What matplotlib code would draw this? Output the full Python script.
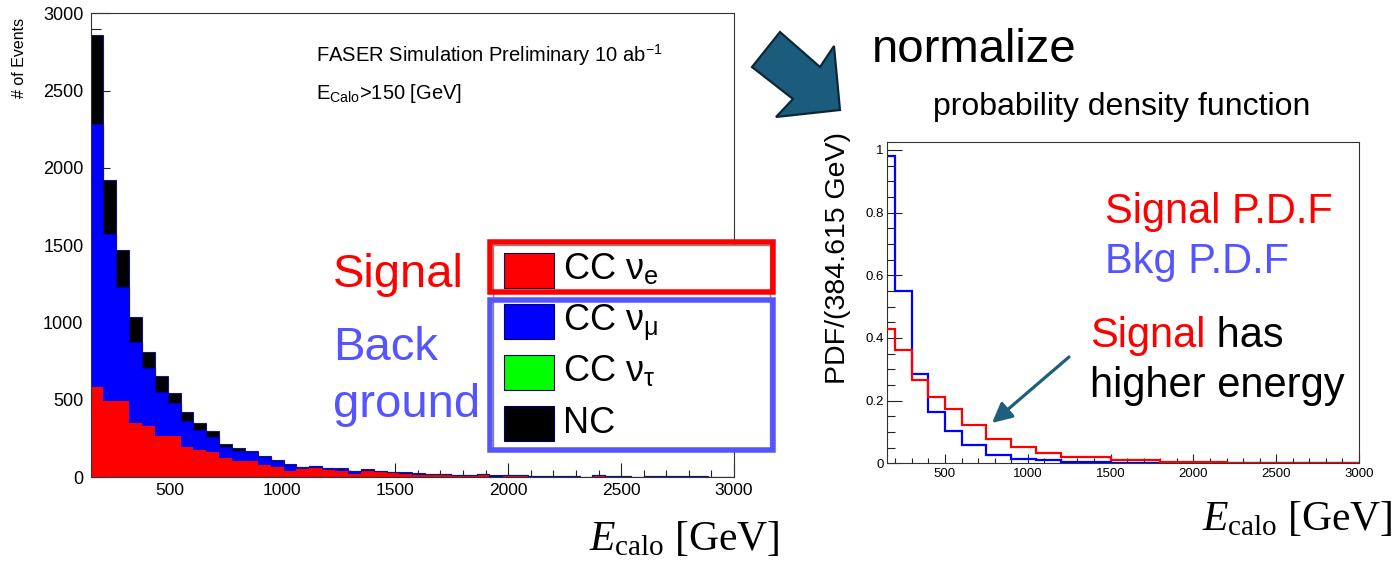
import numpy as np
import matplotlib
matplotlib.use('Agg')
import matplotlib.pyplot as plt
from matplotlib.patches import Rectangle, Polygon
from matplotlib.ticker import MultipleLocator, FuncFormatter

plt.rcParams['font.family'] = ['Liberation Sans', 'DejaVu Sans']
plt.rcParams['mathtext.fontset'] = 'custom'
plt.rcParams['mathtext.rm'] = 'Liberation Serif'
plt.rcParams['mathtext.it'] = 'Liberation Serif:italic'
plt.rcParams['mathtext.bf'] = 'Liberation Serif:bold'
plt.rcParams['mathtext.sf'] = 'Liberation Sans'

# ---------------- data ----------------
# left: stacked event counts, 50 bins from 150 to 3000 GeV
e_min, e_max, n_bins = 150, 3000, 50
cc_nue = [586, 495, 495, 349, 332, 269, 269, 198, 177, 166,
          127, 107, 106, 80, 65, 43, 52, 58, 47, 43,
          22, 43, 32, 30, 28, 15, 17, 15, 13, 9,
          17, 4, 12, 12, 0, 2, 2, 2, 0, 12,
          0, 0, 0, 0, 0, 0, 0, 0, 0, 0]
cc_numu = [1698, 1076, 737, 528, 377, 280, 209, 166, 129, 97,
           67, 65, 60, 53, 43, 38, 15, 14, 13, 13,
           19, 7, 7, 5, 2, 9, 3, 5, 2, 4,
           2, 6, 2, 2, 10, 4, 4, 4, 0, 1,
           6, 6, 0, 6, 6, 6, 6, 6, 0, 0]
cc_nutau = [0] * 50
nc = [576, 349, 238, 159, 99, 106, 65, 60, 43, 36,
      19, 15, 6, 5, 4, 3, 2, 3, 2, 2,
      2, 2, 2, 2, 2, 2, 2, 2, 2, 2,
      2, 2, 1, 1, 1, 0, 0, 0, 0, 1,
      0, 0, 0, 0, 0, 0, 0, 0, 0, 0]
stack_labels = ['CC ν$_{\\mathsf{e}}$', 'CC ν$_{\\mathsf{\\mu}}$',
                'CC ν$_{\\mathsf{\\tau}}$', 'NC']
stack_colors = ['#ff0000', '#0000ff', '#00ff00', '#000000']

# right: normalised PDFs, variable bins
pdf_edges = [150, 200, 300, 400, 500, 600, 750, 900, 1050, 1200, 1500, 1800, 2200, 3000]
signal_pdf = [0.430, 0.361, 0.266, 0.212, 0.172, 0.122, 0.077, 0.051, 0.034,
              0.021, 0.010, 0.004, 0.001]
bkg_pdf = [0.979, 0.549, 0.285, 0.164, 0.102, 0.057, 0.028, 0.015, 0.010,
           0.004, 0.002, 0.001, 0.0005]

# ---------------- figure ----------------
W, H = 1400, 561
fig = plt.figure(figsize=(14, 5.61), dpi=100)


def fr(x0, y0, x1, y1):
    return [x0 / W, 1 - y1 / H, (x1 - x0) / W, (y1 - y0) / H]


px = 0.72  # points per pixel

# ---- left stacked histogram ----
axL = fig.add_axes(fr(90.5, 13.3, 734, 477.3))
edges = np.linspace(e_min, e_max, n_bins + 1)
comps = [np.array(cc_nue, float), np.array(cc_numu, float),
         np.array(cc_nutau, float), np.array(nc, float)]
base = np.zeros(n_bins)
tops = []
for vals, col in zip(comps, stack_colors):
    if vals.sum() > 0:
        axL.stairs(base + vals, edges, baseline=base.copy(), fill=True,
                   color=col, linewidth=0, zorder=2)
    base = base + vals
    tops.append(base.copy())
axL.stairs(tops[1], edges, baseline=None, color='#0000b0', linewidth=0.8, zorder=3)
axL.stairs(tops[3], edges, baseline=None, color='#15157a', linewidth=0.8, zorder=3)

axL.set_xlim(e_min, e_max)
axL.set_ylim(0, 3000)
axL.xaxis.set_major_locator(MultipleLocator(500))
axL.xaxis.set_minor_locator(MultipleLocator(100))
axL.yaxis.set_major_locator(MultipleLocator(500))
axL.yaxis.set_minor_locator(MultipleLocator(100))
axL.tick_params(axis='x', which='major', direction='in', length=14 * px, width=0.8,
                color='#222222', labelsize=12.5, pad=5.5 * px)
axL.tick_params(axis='x', which='minor', direction='in', length=7 * px, width=0.8,
                color='#222222')
axL.tick_params(axis='y', which='major', direction='in', length=19 * px, width=0.8,
                color='#222222', labelsize=13, pad=7 * px)
axL.tick_params(axis='y', which='minor', direction='in', length=9.5 * px, width=0.8,
                color='#222222')
for s in axL.spines.values():
    s.set_linewidth(0.8)
    s.set_color('#333333')
    s.set_zorder(4)

# ---- right PDF plot ----
axR = fig.add_axes(fr(887, 142, 1359, 463.3))
axR.stairs(bkg_pdf, pdf_edges, baseline=None, color='#0000ff', linewidth=1.6, zorder=2)
axR.stairs(signal_pdf, pdf_edges, baseline=None, color='#ff0000', linewidth=1.6, zorder=3)
axR.set_xlim(150, 3000)
axR.set_ylim(0, 1.025)
axR.xaxis.set_major_locator(MultipleLocator(500))
axR.xaxis.set_minor_locator(MultipleLocator(100))
axR.yaxis.set_major_locator(MultipleLocator(0.2))
axR.yaxis.set_minor_locator(MultipleLocator(0.05))
axR.yaxis.set_major_formatter(FuncFormatter(lambda v, p: '%g' % round(v, 3)))
axR.tick_params(axis='x', which='major', direction='in', length=9 * px, width=0.8,
                color='#222222', labelsize=9.5, pad=5 * px)
axR.tick_params(axis='x', which='minor', direction='in', length=5 * px, width=0.8,
                color='#222222')
axR.tick_params(axis='y', which='major', direction='in', length=15 * px, width=0.8,
                color='#222222', labelsize=9.5, pad=3.5 * px)
axR.tick_params(axis='y', which='minor', direction='in', length=7.7 * px, width=0.8,
                color='#222222')
for s in axR.spines.values():
    s.set_linewidth(0.8)
    s.set_color('#333333')

# ---- overlay in pixel coordinates ----
ov = fig.add_axes([0, 0, 1, 1], zorder=10)
ov.set_xlim(0, W)
ov.set_ylim(H, 0)
ov.axis('off')
ov.patch.set_alpha(0)

sig_red = '#ff0000'
bkg_blue = '#5555ff'

# axis titles
ov.text(20, 18, '# of Events', rotation=90, ha='center', va='top', fontsize=11.5)
ov.text(838, 258, 'PDF/(384.615 GeV)', rotation=90, ha='center', va='center', fontsize=20.5)
ov.text(589, 550, r'$E_{\mathrm{calo}}\ \mathrm{[GeV]}$', ha='left', va='baseline',
        fontsize=30)
ov.text(1202, 530, r'$E_{\mathrm{calo}}\ \mathrm{[GeV]}$', ha='left', va='baseline',
        fontsize=30)

# plot annotations
ov.text(316, 62, 'FASER Simulation Preliminary 10 ab$^{\\mathsf{-1}}$', ha='left',
        va='baseline', fontsize=14.5)
ov.text(316, 99, 'E$_{\\mathsf{Calo}}$>150 [GeV]', ha='left', va='baseline', fontsize=14.5)

ov.text(333, 287, 'Signal', color=sig_red, fontsize=34, ha='left', va='baseline')
ov.text(333, 360, 'Back', color=bkg_blue, fontsize=34, ha='left', va='baseline')
ov.text(333, 417, 'ground', color=bkg_blue, fontsize=34, ha='left', va='baseline')

ov.text(872, 62, 'normalize', fontsize=34, ha='left', va='baseline')
ov.text(933, 115, 'probability density function', fontsize=23, ha='left', va='baseline')

ov.text(1105, 223, 'Signal P.D.F', color=sig_red, fontsize=30, ha='left', va='baseline')
ov.text(1105, 273, 'Bkg P.D.F', color=bkg_blue, fontsize=30, ha='left', va='baseline')
t1 = ov.text(1090, 347, 'Signal', color=sig_red, fontsize=30, ha='left', va='baseline')
ov.annotate(' has', xycoords=t1, xy=(1, 0), va='bottom', ha='left', fontsize=30,
            color='black')
ov.text(1090, 397, 'higher energy', fontsize=30, ha='left', va='baseline')

# legend (stack entries)
ov.add_patch(Rectangle((493, 245), 277, 205, facecolor='white', edgecolor='#888888',
                       linewidth=1.0, zorder=1))
row_tops = [253, 304, 355, 406]
for top, lab, col in zip(row_tops, stack_labels, stack_colors):
    ov.add_patch(Rectangle((504, top), 50, 35, facecolor=col, edgecolor='#000070',
                           linewidth=0.8, zorder=2))
    ov.text(563, top + 27, lab, fontsize=26, ha='left', va='baseline', zorder=3)

# highlight boxes
ov.add_patch(Rectangle((489.5, 242), 283, 50, fill=False, edgecolor=sig_red,
                       linewidth=5.5 * px, zorder=4))
ov.add_patch(Rectangle((489.5, 300), 283, 150, fill=False, edgecolor=bkg_blue,
                       linewidth=5.5 * px, zorder=4))

# big arrow
ov.add_patch(Polygon([(752, 67), (780, 32), (820, 67), (834, 46), (840, 110),
                      (776, 117), (793, 99)], closed=True, facecolor='#1b5b7b',
                     edgecolor='#0c2736', linewidth=2.2 * px, zorder=2))

# small arrow
ov.annotate('', xy=(992, 423), xytext=(1069, 357),
            arrowprops=dict(arrowstyle='-|>', lw=3.2 * px, color='#1d5f7c',
                            mutation_scale=30, shrinkA=0, shrinkB=0))

fig.savefig('out.png', dpi=100)
